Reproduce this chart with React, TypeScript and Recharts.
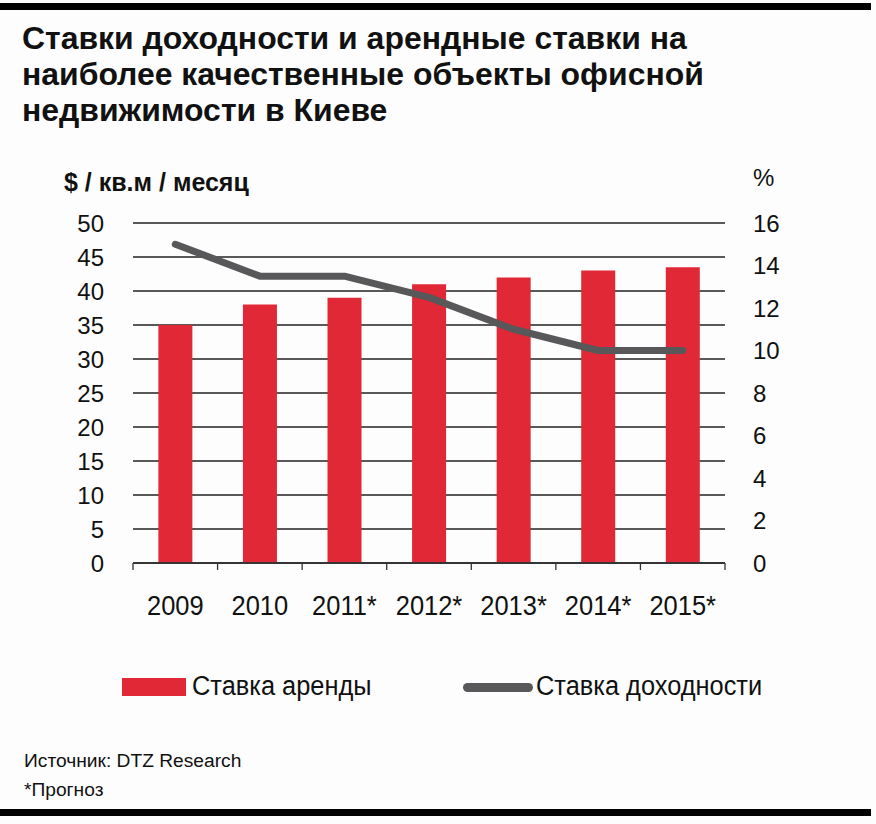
import React from 'react';
import { ComposedChart, Bar, Line, XAxis, YAxis, CartesianGrid, Legend, ReferenceLine } from 'recharts';

const years = ['2009', '2010', '2011*', '2012*', '2013*', '2014*', '2015*'];
const rentRates = [35, 38, 39, 41, 42, 43, 43.5];
const yieldRates = [15, 13.5, 13.5, 12.5, 11, 10, 10];
const leftTicks = [0, 5, 10, 15, 20, 25, 30, 35, 40, 45, 50];
const rightTicks = [0, 2, 4, 6, 8, 10, 12, 14, 16];

const titleLines = [
  'Ставки доходности и арендные ставки на',
  'наиболее качественные объекты офисной',
  'недвижимости в Киеве',
];
const leftUnit = '$ / кв.м / месяц';
const rightUnit = '%';
const rentName = 'Ставка аренды';
const yieldName = 'Ставка доходности';
const sourceText = 'Источник: DTZ Research';
const noteText = '*Прогноз';

const data = years.map((y, i) => ({ year: y, rent: rentRates[i], yld: yieldRates[i] }));

const RED = '#e12836';
const GRAY = '#58585a';
const AXIS = '#333';
const FONT = '"Liberation Sans", Arial, sans-serif';

const XTick = (props: any) => {
  const { x, y, payload, index, visibleTicksCount } = props;
  const half = payload.offset || 0;
  const isLast = index === visibleTicksCount - 1;
  return (
    <g transform={`translate(${x},${y})`}>
      <line x1={-half} x2={-half} y1={0} y2={7} stroke={AXIS} strokeWidth={1.3} />
      {isLast && <line x1={half} x2={half} y1={0} y2={7} stroke={AXIS} strokeWidth={1.3} />}
      <text
        x={0}
        y={0}
        dy={52}
        textAnchor="middle"
        fill="#111"
        fontSize={28}
        fontFamily={FONT}
        transform="scale(0.91,1)"
      >
        {payload.value}
      </text>
    </g>
  );
};

const legendText: React.CSSProperties = {
  position: 'absolute',
  top: 0,
  fontSize: 27,
  lineHeight: '40px',
  color: '#111',
  transform: 'scaleX(0.94)',
  transformOrigin: 'left center',
  whiteSpace: 'nowrap',
};

const LegendContent = () => (
  <div style={{ position: 'relative', width: 876, height: 40, fontFamily: FONT }}>
    <div style={{ position: 'absolute', left: 122, top: 12, width: 64, height: 18, background: RED }} />
    <div style={{ ...legendText, left: 192 }}>{rentName}</div>
    <div
      style={{
        position: 'absolute',
        left: 463,
        top: 17,
        width: 70,
        height: 9,
        borderRadius: 5,
        background: GRAY,
      }}
    />
    <div style={{ ...legendText, left: 536 }}>{yieldName}</div>
  </div>
);

export default function App() {
  return (
    <div
      style={{
        position: 'absolute',
        left: 0,
        top: 0,
        width: 876,
        height: 824,
        background: '#fdfdfd',
        fontFamily: FONT,
        overflow: 'hidden',
      }}
    >
      <div style={{ position: 'absolute', left: 0, top: 3, width: 871, height: 7, background: '#000' }} />
      <div style={{ position: 'absolute', left: 0, top: 809, width: 871, height: 7, background: '#000' }} />
      {titleLines.map((t, i) => (
        <div
          key={i}
          style={{
            position: 'absolute',
            left: 22,
            top: 21 + i * 36,
            fontSize: 31,
            fontWeight: 'bold',
            color: '#111',
            whiteSpace: 'nowrap',
            transform: 'scaleX(1.03)',
            transformOrigin: 'left top',
            lineHeight: '36px',
          }}
        >
          {t}
        </div>
      ))}
      <div
        style={{
          position: 'absolute',
          left: 64,
          top: 167,
          fontSize: 25,
          fontWeight: 'bold',
          color: '#111',
          whiteSpace: 'nowrap',
          lineHeight: '30px',
        }}
      >
        {leftUnit}
      </div>
      <div
        style={{
          position: 'absolute',
          left: 753,
          top: 164,
          fontSize: 24,
          color: '#111',
          lineHeight: '28px',
        }}
      >
        {rightUnit}
      </div>
      <div style={{ position: 'absolute', left: 24, top: 750, fontSize: 19.2, color: '#111', lineHeight: '22px' }}>
        {sourceText}
      </div>
      <div style={{ position: 'absolute', left: 24, top: 779, fontSize: 19.2, color: '#111', lineHeight: '22px' }}>
        {noteText}
      </div>
      <div style={{ position: 'absolute', left: 0, top: 0 }}>
        <ComposedChart
          width={876}
          height={824}
          data={data}
          margin={{ top: 183, right: 0, bottom: 200, left: 0 }}
          barCategoryGap="30%"
        >
          <CartesianGrid vertical={false} yAxisId="left" stroke="#222" strokeWidth={1.3} />
          <XAxis
            dataKey="year"
            height={61}
            axisLine={{ stroke: AXIS, strokeWidth: 1.5 }}
            tickLine={false}
            tickSize={0}
            tickMargin={0}
            tick={<XTick />}
            interval={0}
          />
          <YAxis
            yAxisId="left"
            orientation="left"
            width={133}
            domain={[0, 50]}
            ticks={leftTicks}
            axisLine={false}
            tickLine={false}
            tickSize={0}
            tickMargin={29}
            interval={0}
            tick={{ fill: '#111', fontSize: 24, fontFamily: FONT }}
          />
          <YAxis
            yAxisId="right"
            orientation="right"
            width={151}
            domain={[0, 16]}
            ticks={rightTicks}
            axisLine={false}
            tickLine={false}
            tickSize={0}
            tickMargin={28}
            interval={0}
            tick={{ fill: '#111', fontSize: 24, fontFamily: FONT }}
          />
          <Bar yAxisId="left" dataKey="rent" name={rentName} fill={RED} isAnimationActive={false} />
          <Line
            yAxisId="right"
            dataKey="yld"
            name={yieldName}
            stroke={GRAY}
            strokeWidth={7}
            strokeLinecap="round"
            strokeLinejoin="round"
            dot={false}
            activeDot={false}
            type="linear"
            isAnimationActive={false}
          />
          <ReferenceLine yAxisId="left" y={0} stroke={AXIS} strokeWidth={1.5} ifOverflow="visible" />
          <Legend
            content={<LegendContent />}
            verticalAlign="top"
            wrapperStyle={{ position: 'absolute', left: 0, top: 666, width: 876 }}
          />
        </ComposedChart>
      </div>
    </div>
  );
}
